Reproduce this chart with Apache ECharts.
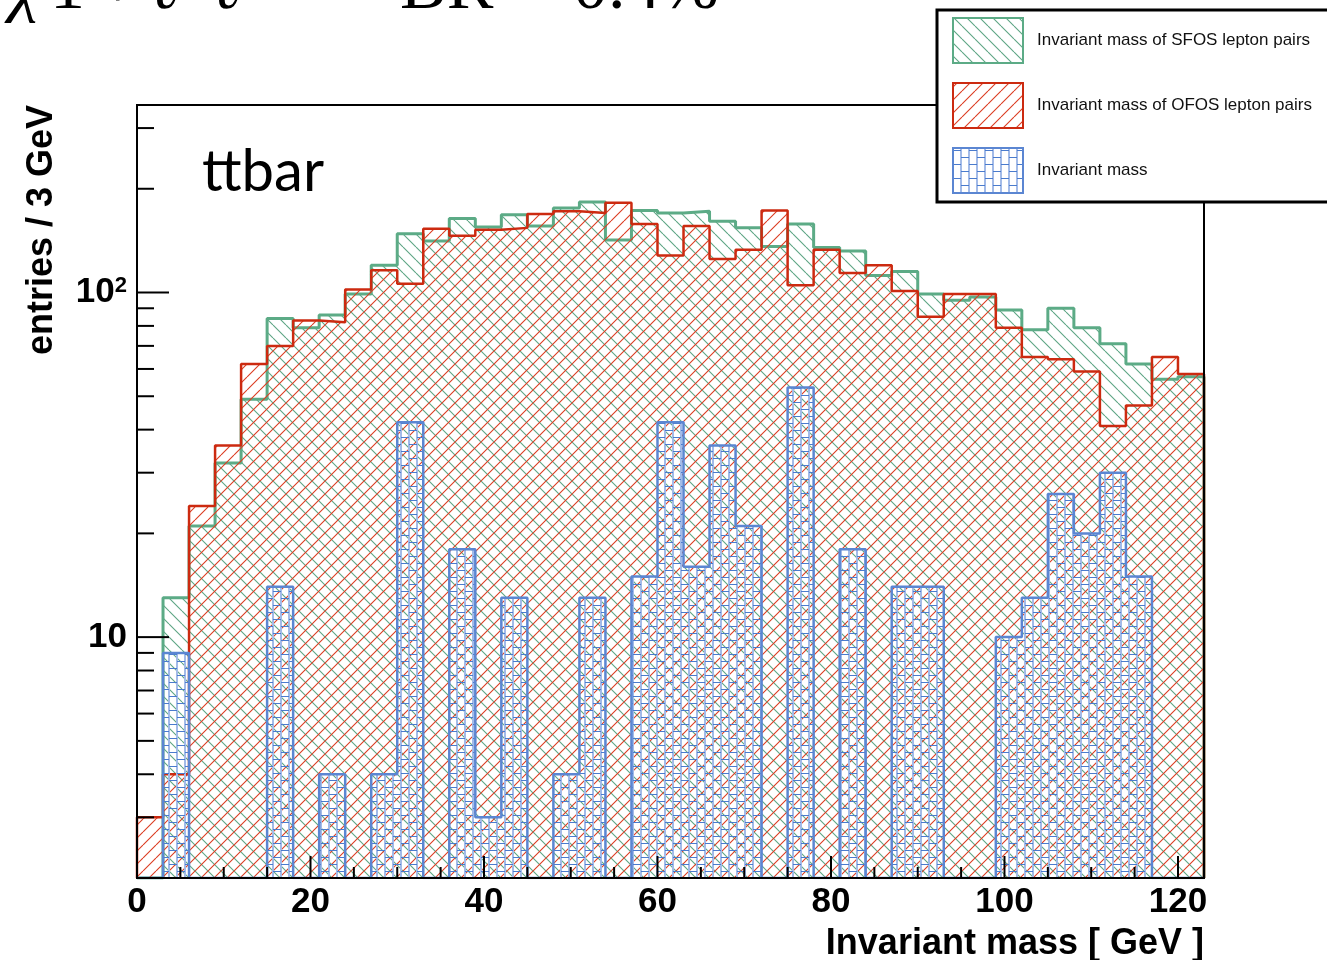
<!DOCTYPE html>
<html><head><meta charset="utf-8">
<script src="https://cdn.jsdelivr.net/npm/echarts@6/dist/echarts.min.js"></script>
<style>html,body{margin:0;padding:0;background:#fff}#c{width:1327px;height:960px}</style>
</head><body><div id="c"></div>
<script>
// ---- data (bins of 3 GeV from 0 to 123) ----
const BIN_WIDTH = 3;
const sfosCounts = [0,13,21,32,49,84,79,86,99,120,148,141,164,155,168,156,176,183,142,173,170,172,161,154,136,158,135,132,112,115,99,95,97,89,78,90,79,71,62,56,57];
const ofosCounts = [3,4,24,36,62,70,83,82,102,116,106,153,146,152,154,169,172,170,182,158,128,156,125,133,173,105,133,114,120,101,85,99,99,79,65,64,59,41,47,65,58];
const invMassCounts = [0,9,0,0,0,14,0,4,0,4,42,0,18,3,13,0,4,13,0,15,42,16,36,21,0,53,0,18,0,14,14,0,0,10,13,26,20,30,15,0,0];
const xTickLabels = [0,20,40,60,80,100,120];
const xMinorTicks = [5,10,15,25,30,35,45,50,55,65,70,75,85,90,95,105,110,115];
const yMajorTicks = [10,100];
const yMinorTicks = [2,3,4,5,6,7,8,9,20,30,40,50,60,70,80,90,200,300];
const legendLabels = ['Invariant mass of SFOS lepton pairs','Invariant mass of OFOS lepton pairs','Invariant mass'];
const X_MIN = 0, X_MAX = 123, Y_MIN = 2, Y_MAX = 350;

const SANS = '"Liberation Sans", Arial, Helvetica, sans-serif';
const SERIF = '"Liberation Serif", "DejaVu Serif", serif';
const GREEN = '#5cab86', RED = '#cc2a10', BLUE = '#5b86d2';

function hatch(dir, color, P, lw) {
  const c = document.createElement('canvas'); c.width = P; c.height = P;
  const g = c.getContext('2d'); g.strokeStyle = color; g.lineWidth = lw;
  g.beginPath();
  for (let k = -1; k <= 1; k++) {
    if (dir === 'back') { g.moveTo(k * P, 0); g.lineTo(k * P + P, P); }
    else { g.moveTo(k * P, P); g.lineTo(k * P + P, 0); }
  }
  g.stroke();
  return c;
}
function brick() {
  const W = 16, H = 14;
  const c = document.createElement('canvas'); c.width = W; c.height = H;
  const g = c.getContext('2d');
  g.strokeStyle = '#a3bbe8'; g.lineWidth = 2;
  g.beginPath(); g.moveTo(1, 0); g.lineTo(1, H); g.moveTo(9, 0); g.lineTo(9, H); g.stroke();
  g.strokeStyle = '#4a7bcd'; g.lineWidth = 1;
  g.beginPath();
  g.moveTo(1, 3.5); g.lineTo(9, 3.5);
  g.moveTo(9, 10.5); g.lineTo(16, 10.5); g.moveTo(0, 10.5); g.lineTo(1, 10.5);
  g.stroke();
  return c;
}
const patGreen = hatch('back', '#5ea585', 13, 1.1);
const patRed = hatch('fwd', '#dc3c22', 13, 1.1);
const patBlue = brick();

function stepData(vals) {
  const pts = [[X_MIN, Y_MIN]];
  vals.forEach((v, i) => pts.push([i * BIN_WIDTH, Math.max(v, Y_MIN)]));
  const last = Math.max(vals[vals.length - 1], Y_MIN);
  pts.push([vals.length * BIN_WIDTH, last]);
  pts.push([vals.length * BIN_WIDTH, Y_MIN]);
  return pts;
}
function histSeries(name, vals, color, lw, pat, z) {
  return {
    type: 'line', name, data: stepData(vals), step: 'end', symbol: 'none', showSymbol: false,
    lineStyle: { color, width: lw }, itemStyle: { color },
    areaStyle: { color: { image: pat, repeat: 'repeat' }, opacity: 1, origin: 'start' },
    z, silent: true, animation: false, clip: true
  };
}
const tickData = [];
yMajorTicks.forEach(v => tickData.push([X_MIN, v, 32, 0]));
yMinorTicks.forEach(v => tickData.push([X_MIN, v, 17, 0]));
xTickLabels.forEach(v => tickData.push([v, Y_MIN, 22, 1]));
xMinorTicks.forEach(v => tickData.push([v, Y_MIN, 11, 1]));

const chart = echarts.init(document.getElementById('c'), null, { renderer: 'canvas' });
const legendSwatches = [
  { pat: patGreen, color: GREEN }, { pat: patRed, color: RED }, { pat: patBlue, color: BLUE }
];
const legendEls = [];
legendEls.push({ type: 'rect', shape: { x: 937, y: 10, width: 420, height: 192 },
  style: { fill: '#fff', stroke: '#000', lineWidth: 3 }, z: 100 });
legendSwatches.forEach((s, i) => {
  const y0 = [18, 83, 148][i];
  legendEls.push({ type: 'rect', shape: { x: 953, y: y0, width: 70, height: 45 },
    style: { fill: { image: s.pat, repeat: 'repeat' }, stroke: s.color, lineWidth: 2 }, z: 101 });
  legendEls.push({ type: 'text', x: 1037, y: y0 + 22.5,
    style: { text: legendLabels[i], font: '17px ' + SANS, fill: '#111', verticalAlign: 'middle', align: 'left' }, z: 101 });
});

const LBL = 35;
const option = {
  animation: false,
  backgroundColor: '#fff',
  grid: { left: 137, right: 123, top: 105, bottom: 82, containLabel: false, outerBoundsMode: 'none', show: false },
  xAxis: {
    type: 'value', min: X_MIN, max: X_MAX, interval: 20,
    axisLine: { show: true, lineStyle: { color: '#000', width: 2 } },
    axisTick: { show: false }, splitLine: { show: false },
    axisLabel: { showMaxLabel: false, margin: 7, fontSize: LBL, fontWeight: 'bold', fontFamily: SANS, color: '#000',
      formatter: v => (xTickLabels.includes(v) ? String(v) : '') }
  },
  yAxis: {
    type: 'log', logBase: 10, min: Y_MIN, max: Y_MAX,
    axisLine: { show: true, lineStyle: { color: '#000', width: 2 } },
    axisTick: { show: false }, splitLine: { show: false }, minorTick: { show: false },
    axisLabel: {
      showMinLabel: false, showMaxLabel: false, margin: 10, color: '#000',
      formatter: v => Math.abs(v - 10) < 1e-6 ? '{n|10}' : (Math.abs(v - 100) < 1e-6 ? '{n|10}{s|2}' : ''),
      rich: {
        n: { fontSize: LBL, fontWeight: 'bold', fontFamily: SANS, color: '#000' },
        s: { fontSize: 22, fontWeight: 'bold', fontFamily: SANS, color: '#000', verticalAlign: 'top' }
      }
    }
  },
  series: [
    histSeries(legendLabels[0], sfosCounts, GREEN, 3, patGreen, 2),
    histSeries(legendLabels[1], ofosCounts, RED, 2.5, patRed, 3),
    histSeries(legendLabels[2], invMassCounts, BLUE, 2.5, patBlue, 4),
    {
      type: 'custom', data: tickData, z: 20, silent: true, clip: false,
      encode: { x: 0, y: 1 },
      renderItem: (params, api) => {
        const p = api.coord([api.value(0), api.value(1)]);
        const len = api.value(2), vertical = api.value(3) === 1;
        return { type: 'line',
          shape: vertical ? { x1: p[0], y1: p[1], x2: p[0], y2: p[1] - len } : { x1: p[0], y1: p[1], x2: p[0] + len, y2: p[1] },
          style: { stroke: '#000', lineWidth: 2 } };
      }
    }
  ],
  graphic: [
    { type: 'rect', shape: { x: 137, y: 105, width: 1067, height: 773 }, style: { fill: 'none', stroke: '#000', lineWidth: 2 }, z: 50, silent: true },
    { type: 'text', x: 202, y: 172, style: { text: 'ttbar', font: '58px Lato, "Open Sans", sans-serif', fill: '#000', verticalAlign: 'middle' }, z: 60 },
    { type: 'text', x: 42, y: 105, rotation: Math.PI / 2,
      style: { text: 'entries / 3 GeV', font: 'bold 36px ' + SANS, fill: '#000', align: 'right', verticalAlign: 'middle' }, z: 60 },
    { type: 'text', x: 1204, y: 944,
      style: { text: 'Invariant mass [ GeV ]', font: 'bold 36px ' + SANS, fill: '#000', align: 'right', verticalAlign: 'middle' }, z: 60 },
    { type: 'text', x: 10, y: -10, style: { text: 'χ', font: 'italic 70px ' + SERIF, fill: '#000', verticalAlign: 'middle' }, z: 60 },
    { type: 'text', x: 50, y: -10, style: { text: '1', font: '70px ' + SERIF, fill: '#000', verticalAlign: 'middle' }, z: 60 },
    { type: 'text', x: 98, y: -10, style: { text: '+', font: '70px ' + SERIF, fill: '#000', verticalAlign: 'middle' }, z: 60 },
    { type: 'text', x: 150, y: -10, style: { text: 'ℓ', font: 'italic 70px ' + SERIF, fill: '#000', verticalAlign: 'middle' }, z: 60 },
    { type: 'text', x: 212, y: -10, style: { text: 'ℓ', font: 'italic 70px ' + SERIF, fill: '#000', verticalAlign: 'middle' }, z: 60 },
    { type: 'text', x: 400, y: -10, style: { text: 'BR', font: '70px ' + SERIF, fill: '#000', verticalAlign: 'middle' }, z: 60 },
    { type: 'text', x: 510, y: -10, style: { text: '~', font: '70px ' + SERIF, fill: '#000', verticalAlign: 'middle' }, z: 60 },
    { type: 'text', x: 573, y: -10, style: { text: '0.4%', font: '70px ' + SERIF, fill: '#000', verticalAlign: 'middle' }, z: 60 },
    ...legendEls
  ]
};
chart.setOption(option);
</script></body></html>
